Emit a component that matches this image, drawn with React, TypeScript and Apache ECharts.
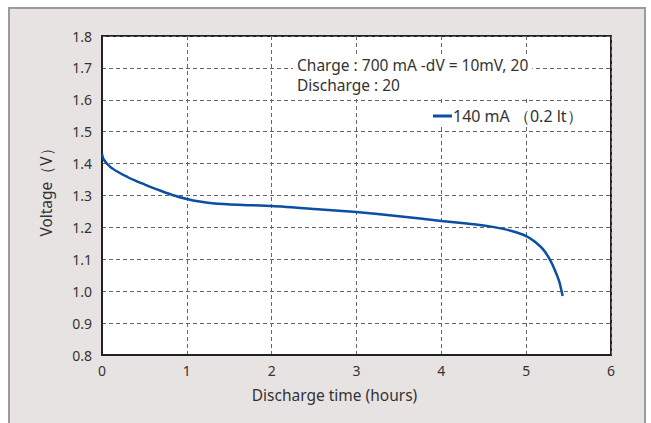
import React, { useEffect, useRef } from "react";
import * as echarts from "echarts";

const hours = [0, 0.02, 0.1, 0.2, 0.3, 0.4, 0.5, 0.6, 0.7, 0.85, 1.0, 1.15, 1.3, 1.6, 2.0, 2.5, 3.0, 3.5, 4.0, 4.3, 4.5, 4.7, 4.85, 5.0, 5.1, 5.2, 5.28, 5.34, 5.39, 5.43];
const voltage = [1.43, 1.413, 1.389, 1.372, 1.358, 1.346, 1.335, 1.324, 1.314, 1.3, 1.289, 1.281, 1.276, 1.271, 1.267, 1.258, 1.248, 1.235, 1.220, 1.212, 1.206, 1.197, 1.187, 1.173, 1.156, 1.131, 1.099, 1.065, 1.030, 0.985];
const xTicks = [0, 6, 1];
const yTicks = [0.8, 1.8, 0.1];
const legendName = "140 mA （0.2 lt）";
const noteLines = ["Charge : 700 mA -dV = 10mV, 20", "Discharge : 20"];

export default function App() {
  const ref = useRef<HTMLDivElement>(null);
  useEffect(() => {
    if (!ref.current) return;
    const chart = echarts.init(ref.current, null, { renderer: "svg" });
    const font = "'Noto Sans', sans-serif";
    chart.setOption({
      animation: false,
      textStyle: { fontFamily: font },
      graphic: [
        {
          type: "rect",
          z: -10,
          silent: true,
          shape: { x: 9, y: 8, width: 636, height: 440 },
          style: { fill: "#e8e3e3", stroke: "#9b9b9b", lineWidth: 2 },
        },
        {
          type: "text",
          left: 293,
          top: 54,
          z: 10,
          style: {
            text: noteLines.join("\n"),
            font: "15.5px 'Noto Sans', sans-serif",
            fill: "#333",
            lineHeight: 20,
            backgroundColor: "#fff",
            padding: [1, 4, 1, 4],
          },
        },
      ],
      legend: {
        show: true,
        left: 430,
        top: 106,
        padding: [2, 4, 2, 3],
        backgroundColor: "#fff",
        icon: "rect",
        itemWidth: 19,
        itemHeight: 3,
        itemGap: 4,
        textStyle: { fontSize: 16, color: "#333", fontFamily: font, padding: [0, 0, 0, -4] },
        data: [legendName],
      },
      grid: {
        left: 102,
        right: 40,
        top: 36,
        bottom: 68,
        show: true,
        backgroundColor: "#fff",
        borderColor: "#222",
        borderWidth: 2,
      },
      xAxis: {
        type: "value",
        min: xTicks[0],
        max: xTicks[1],
        interval: xTicks[2],
        name: "Discharge time (hours)",
        nameLocation: "middle",
        nameGap: 32,
        nameTextStyle: { fontSize: 15.5, color: "#333", padding: [0, 44, 0, 0] },
        axisLine: { show: true, lineStyle: { color: "#222", width: 2 } },
        axisTick: { show: false },
        axisLabel: { fontSize: 14, color: "#333", margin: 8 },
        splitLine: { show: true, lineStyle: { type: [4, 3], color: "#666", width: 1 } },
      },
      yAxis: {
        type: "value",
        min: yTicks[0],
        max: yTicks[1],
        interval: yTicks[2],
        name: "Voltage（V）",
        nameLocation: "middle",
        nameGap: 48,
        nameTextStyle: { fontSize: 15.5, color: "#333", padding: [0, 0, 0, 14] },
        axisLine: { show: true, lineStyle: { color: "#222", width: 2 } },
        axisTick: { show: false },
        axisLabel: { fontSize: 14, color: "#333", margin: 10, formatter: (v: number) => v.toFixed(1) },
        splitLine: { show: true, lineStyle: { type: [4, 3], color: "#666", width: 1 } },
      },
      series: [
        {
          name: legendName,
          type: "line",
          smooth: 0.25,
          showSymbol: false,
          symbol: "none",
          lineStyle: { color: "#0a4fa3", width: 2.5 },
          itemStyle: { color: "#0a4fa3" },
          data: hours.map((h, i) => [h, voltage[i]]),
        },
      ],
    });
    return () => chart.dispose();
  }, []);
  return (
    <div
      ref={ref}
      style={{ position: "fixed", left: 0, top: 0, width: 651, height: 423, background: "#fff" }}
    />
  );
}
